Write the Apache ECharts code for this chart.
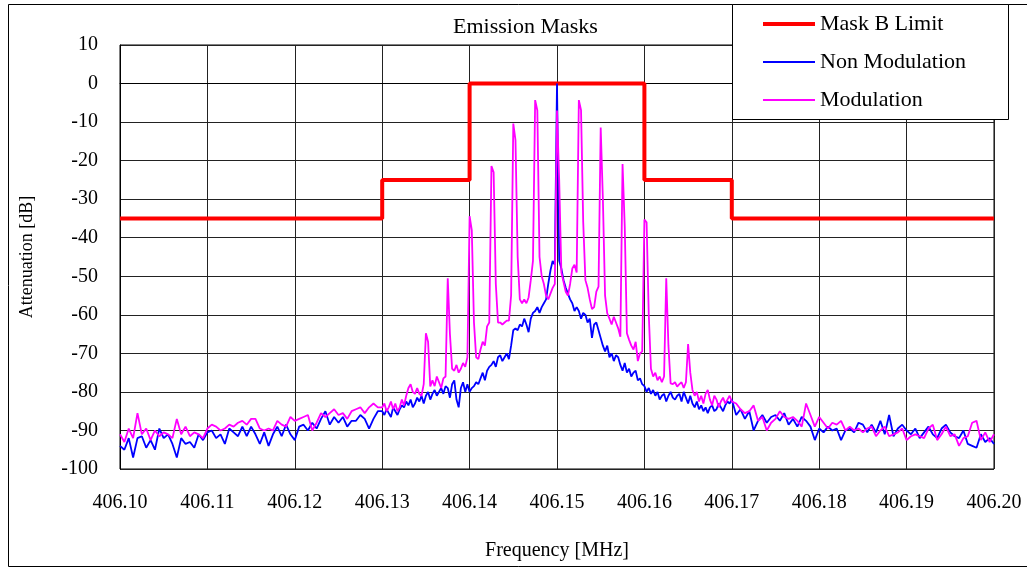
<!DOCTYPE html>
<html>
<head>
<meta charset="utf-8">
<script src="https://cdn.jsdelivr.net/npm/echarts@6/dist/echarts.min.js"></script>
<style>
html,body{margin:0;padding:0;background:#fff;}
#chart{width:1027px;height:569px;}
</style>
</head>
<body>
<div id="chart"></div>
<script>
// ---- data ----
const xTicks = ["406.10","406.11","406.12","406.13","406.14","406.15","406.16","406.17","406.18","406.19","406.20"];
const yTicks = [10,0,-10,-20,-30,-40,-50,-60,-70,-80,-90,-100];

// Mask B limit breakpoints (step line)
const maskFreq = [406.10, 406.13, 406.14, 406.16, 406.17, 406.20];
const maskVal  = [-35, -25, 0, -25, -35, -35];

// sampling grids of the measured traces
const leftStart = 406.100, leftStep = 0.0005;     // 60 samples
const centerStart = 406.130, centerStep = 0.00025; // 161 samples
const rightStart = 406.1705, rightStep = 0.0005;   // 60 samples

const nonModLeft = [-94,-95,-92,-97,-92,-91.5,-94.5,-92.5,-95,-89.5,-92,-91,-93.5,-97,-92,-93.5,-93,-94.5,-91,-92.5,-90.5,-90,-92,-91,-93.5,-89.5,-90.5,-91.5,-89,-91.5,
  -89,-91,-93.5,-90.5,-94,-91,-89,-91.5,-88.5,-91,-92.5,-89,-88.5,-90,-88,-89.5,-87,-85,-88.5,-86.5,-88,-86.5,-89,-87.5,-87.5,-86,-87,-89.5,-87,-85];
const nonModCenter = [-85,-86,-84.5,-85.5,-86.5,-84,-85,-86,-84.5,-83.5,
  -84,-82.5,-83.5,-82,-84,-83,-81.5,-82.5,-81,-83,
  -81,-80,-82,-80.5,-79.5,-81,-80,-79,-80.5,-78.5,
  -79,-81.5,-78,-77,-82,-84,-79,-77.5,-80,-78,
  -80,-79,-78.5,-77.5,-78,-76.5,-75,-77,-74.5,-73.5,
  -73,-72,-73.5,-71,-70.5,-72,-71,-70,-71.5,-68,
  -64,-63.5,-64,-62.5,-63,-61,-62.5,-64.5,-61,-59.5,
  -59,-58,-59.5,-58,-57,-56,-52,-48.5,-46,-47,
  0,
  -46,-48,-51,-53,-54.5,-56,-57,-59,-58,
  -59,-61,-59.5,-60,-62,-61,-66,-62.5,-62,-64,
  -66,-68,-69.5,-68,-71,-70,-72,-70.5,-71,-73,
  -74.5,-72.5,-75,-74,-76,-75,-74.5,-77,-76.5,-78,
  -78.5,-80,-79,-80.5,-79.5,-81,-80,-82,-81,-80.5,
  -82.5,-81,-80,-81.5,-82,-81,-80.5,-82.5,-80,-81.5,
  -83,-81,-83,-84,-82.5,-84.5,-83.5,-85,-84,-85.5,
  -84,-83.5,-85,-84.5,-83,-84,-85,-83.5,-82.5,-83,-82];
const nonModRight = [-86,-84.5,-87,-85,-90,-87.5,-86,-88,-86.5,-86,-87.5,-85.5,-88.5,-87,-89,-86.5,-87.5,-89,-92.5,-89.5,-90.5,-89,-90,-89.5,-92.5,-90,-89.5,-90.5,
  -88,-88.5,-90.5,-88.5,-90.5,-87.5,-91,-86,-91.5,-89.5,-88.5,-90,-91,-89.5,-92,-90.5,-89,-91,-92,-89.5,-88.5,-90.5,-91.5,-92,-90,-93.5,-94,-94.5,-91,-93,-92,-93.5];

const modLeft = [-91,-93,-89.5,-92,-85.5,-91,-89.5,-92.5,-90,-91.5,-90.5,-91,-92,-87,-91,-89,-91.5,-90.5,-91,-92,-89.5,-88.5,-89,-90,-89.5,-88.5,-89,-88,-87.5,-88.5,
  -87,-87,-89.5,-90,-89.5,-90,-87.5,-88.5,-89,-86.5,-87.5,-87,-86.5,-86,-90,-88,-85.5,-86.5,-85.5,-84.5,-86,-85.5,-87,-85,-84.5,-84,-85.5,-84,-83,-84];
const modCenter = [-84,-83,-85,-84,-82.5,-84.5,-83,-85,-84,-82,
  -83.5,-81,-79,-78,-80,-80.5,-79,-80.5,-81,-78,
  -64.8,-67,-78.6,-77,-78.5,-76,-77.5,-79,-76.5,-76,
  -50.5,-65,-74,-74.5,-73,-75,-74,-72.5,-73.5,-71,
  -34.4,-38,-62,-71,-71.5,-69,-67,-68,-63,-62,
  -21.4,-23,-52,-62,-62,-62.5,-62,-61.5,-61.5,-55,
  -10.4,-14.7,-45,-56,-57,-56,-57,-55.5,-51,-46,
  -4.3,-7,-45,-50,-52,-55,-56,-54.5,-53,-52,
  -7,
  -25,-49,-51.5,-54,-55,-52,-48,-47,-49,
  -4.3,-6.9,-36,-51,-53,-56,-58.5,-58,-54,-52.7,
  -11.4,-30,-55,-59.6,-61,-62.5,-60.5,-62,-63.5,-65.7,
  -20.9,-37,-64.8,-66.5,-68,-69,-67,-72,-70,-69.5,
  -35.3,-36,-60,-74,-76,-75,-77,-76,-77.5,-76,
  -50.5,-68,-77.8,-78,-77.5,-78.6,-78,-77.5,-79,-77.5,
  -67.6,-75,-79.5,-81,-80,-82.5,-81,-83,-80.5,-79.5,
  -82,-83.5,-81,-82,-84,-82.5,-81.5,-83,-82,-81,-82.5];
const modRight = [-83,-84.5,-85.5,-85,-83.5,-87.5,-86.5,-90,-88,-87,-85,-86.5,-87,-86.5,-87.5,-89,-83,-86,-89,-86.5,-88,-89.5,-88,-88.5,-87.5,-90,-89,-90,
  -89.5,-90.5,-89.5,-89,-91.5,-90,-89,-91.5,-91,-90.5,-89.5,-92.5,-91.5,-91,-91.5,-92,-89.5,-88.5,-92.5,-91,-89,-91.5,-91,-94,-92,-91.5,-88,-87.5,-92.5,-90.5,-93,-91];

const seriesNames = ["Mask B Limit", "Non Modulation", "Modulation"];

// ---- build tables for the library ----
function pairs(start, step, vals) {
  return vals.map((v, i) => [Number((start + i * step).toFixed(6)), v]);
}
const maskData = maskFreq.map((f, i) => [f, maskVal[i]]);
const nonModData = [].concat(pairs(leftStart, leftStep, nonModLeft), pairs(centerStart, centerStep, nonModCenter), pairs(rightStart, rightStep, nonModRight));
const modData = [].concat(pairs(leftStart, leftStep, modLeft), pairs(centerStart, centerStep, modCenter), pairs(rightStart, rightStep, modRight));

const FONT = '"Liberation Serif", "Times New Roman", serif';
const chart = echarts.init(document.getElementById('chart'), null, {renderer: 'canvas'});
chart.setOption({
  animation: false,
  backgroundColor: '#fff',
  textStyle: {fontFamily: FONT, color: '#000'},
  title: {
    text: 'Emission Masks',
    left: 453, top: 16, padding: 0,
    textStyle: {fontFamily: FONT, fontWeight: 'normal', fontSize: 22, color: '#000'}
  },
  graphic: [
    {type: 'rect', z: 1, silent: true, shape: {x: 8.5, y: 4.5, width: 1030, height: 562}, style: {fill: 'none', stroke: '#000', lineWidth: 1}},
    {type: 'rect', z: 5, silent: true, shape: {x: 732.5, y: 4.5, width: 276, height: 115}, style: {fill: '#fff', stroke: '#000', lineWidth: 1}}
  ],
  legend: {
    z: 10,
    orient: 'vertical',
    left: 763, top: 13,
    itemWidth: 52, itemHeight: 14, itemGap: 16,
    padding: 0,
    textStyle: {fontFamily: FONT, fontSize: 22, color: '#000', lineHeight: 22},
    itemStyle: {borderWidth: 0},
    data: [
      {name: seriesNames[0], icon: 'path://M0,0H52V4H0Z'},
      {name: seriesNames[1], icon: 'path://M0,0H52V2H0Z'},
      {name: seriesNames[2], icon: 'path://M0,0H52V2H0Z'}
    ]
  },
  grid: {left: 120, right: 33, top: 45, bottom: 100, show: true, borderColor: '#000', borderWidth: 1, backgroundColor: 'transparent'},
  xAxis: {
    type: 'value', min: 406.10, max: 406.20, interval: 0.01,
    name: 'Frequency [MHz]', nameLocation: 'middle', nameGap: 72,
    nameTextStyle: {fontFamily: FONT, fontSize: 20, color: '#000'},
    axisLine: {show: true, lineStyle: {color: '#000'}},
    axisTick: {show: false},
    axisLabel: {margin: 24, fontFamily: FONT, fontSize: 20, color: '#000',
      formatter: v => { const s = v.toFixed(2); return xTicks.indexOf(s) >= 0 ? s : ''; }},
    splitLine: {show: true, lineStyle: {color: '#222', width: 1}}
  },
  yAxis: {
    type: 'value', min: -100, max: 10, interval: 10,
    name: 'Attenuation [dB]', nameLocation: 'middle', nameGap: 84, nameRotate: 90,
    nameTextStyle: {fontFamily: FONT, fontSize: 18, color: '#000'},
    axisLine: {show: true, lineStyle: {color: '#000'}},
    axisTick: {show: false},
    axisLabel: {margin: 22, fontFamily: FONT, fontSize: 20, color: '#000',
      formatter: v => yTicks.indexOf(Math.round(v)) >= 0 ? String(Math.round(v)) : ''},
    splitLine: {show: true, lineStyle: {color: '#222', width: 1}}
  },
  series: [
    {name: seriesNames[0], type: 'line', step: 'end', data: maskData, showSymbol: false, z: 2,
     lineStyle: {color: '#ff0000', width: 4}, itemStyle: {color: '#ff0000'}},
    {name: seriesNames[1], type: 'line', data: nonModData, showSymbol: false, z: 3,
     lineStyle: {color: '#0000ff', width: 1.8}, itemStyle: {color: '#0000ff'}},
    {name: seriesNames[2], type: 'line', data: modData, showSymbol: false, z: 4,
     lineStyle: {color: '#ff00ff', width: 1.8}, itemStyle: {color: '#ff00ff'}}
  ]
});
</script>
</body>
</html>
